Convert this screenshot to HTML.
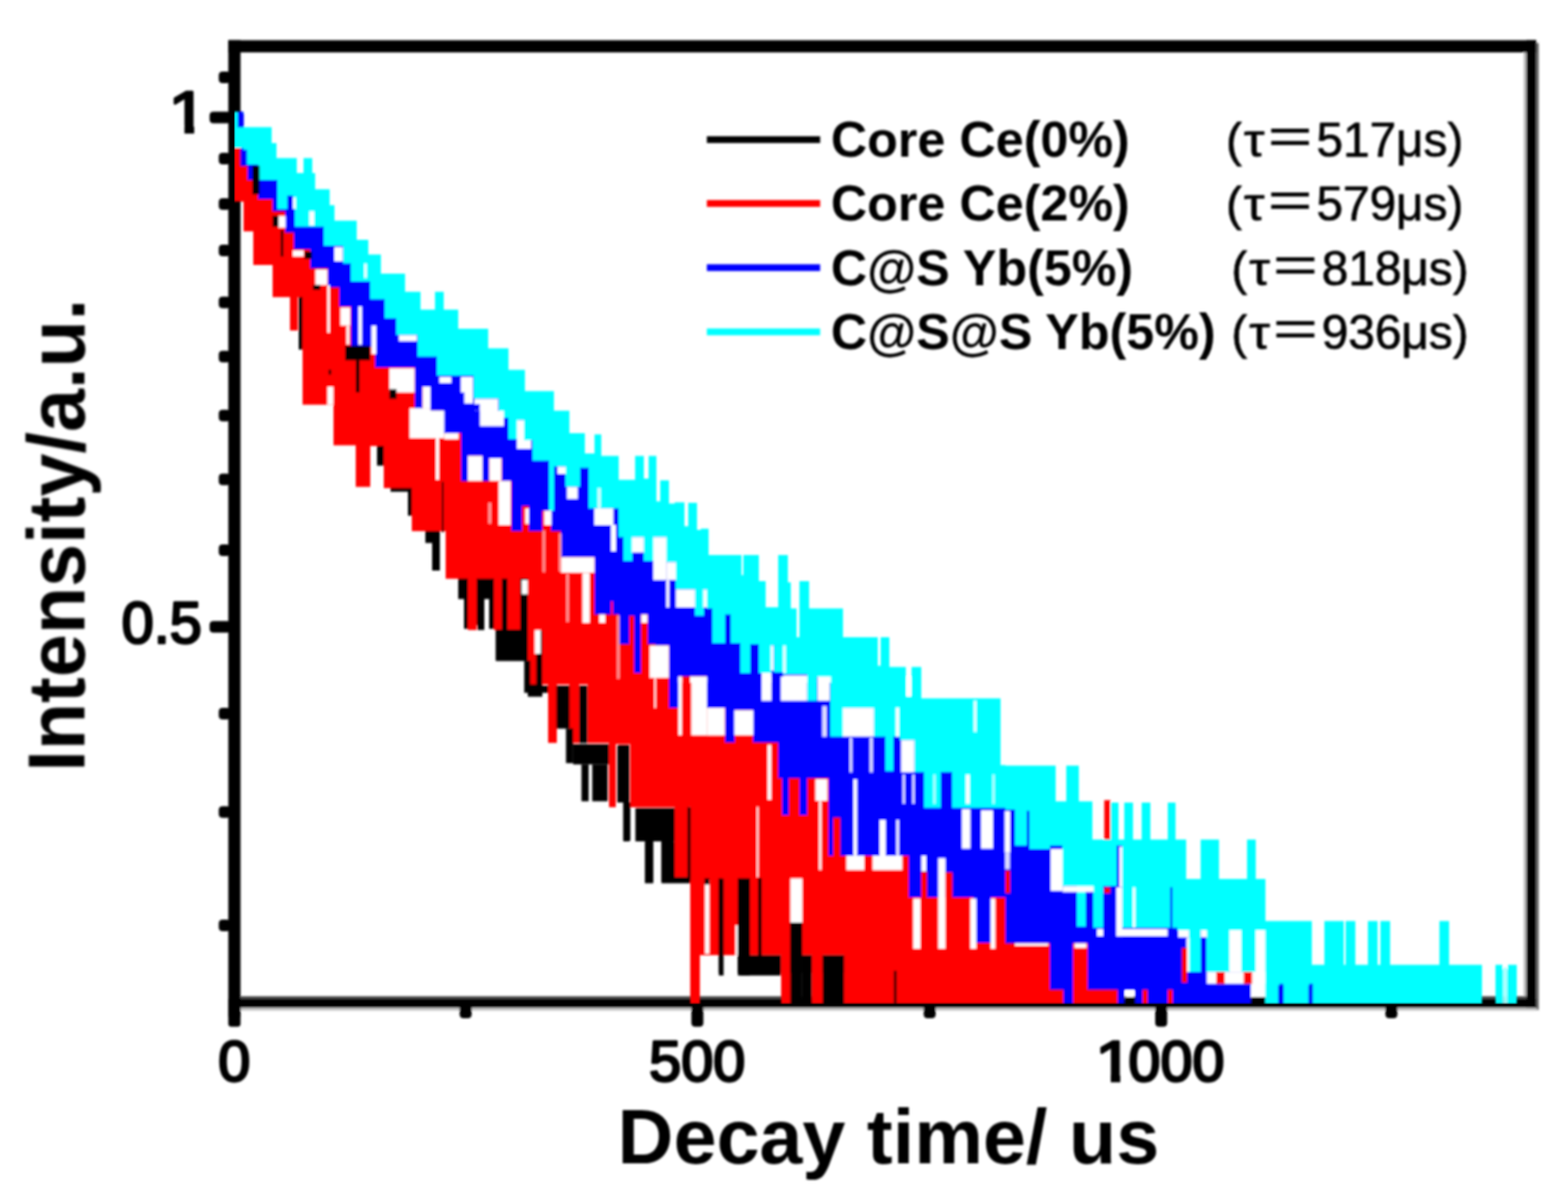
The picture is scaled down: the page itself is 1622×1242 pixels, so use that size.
<!DOCTYPE html>
<html lang="en">
<head>
<meta charset="utf-8">
<title>Decay curves</title>
<style>
html,body{margin:0;padding:0;background:#fff;}
body{width:1622px;height:1242px;overflow:hidden;}
svg{display:block;}
text{fill:#000;}
</style>
</head>
<body>
<svg width="1622" height="1242" viewBox="0 0 1622 1242">
<rect x="0" y="0" width="1622" height="1242" fill="#fff"/>
<g id="frame" filter="url(#soft2)">
<rect x="236.2" y="41.6" width="12.6" height="1010" fill="#000"/><rect x="236.2" y="1040" width="12.6" height="21.8" rx="3" fill="#000"/>
<rect x="1576.2" y="54" width="3" height="977" fill="#b8b8b8"/>
<rect x="1579" y="41.6" width="10" height="1001" fill="#000"/>
<rect x="1588.8" y="44.5" width="3" height="1000" fill="#666"/>
<rect x="248.8" y="1030.3" width="1330.5" height="3" fill="#444"/>
<rect x="236.2" y="1033" width="1353" height="9.4" fill="#000"/>
<rect x="248.8" y="1042.3" width="1341" height="2.8" fill="#c4c4c4"/>
<rect x="236.2" y="41.6" width="1353" height="12.6" fill="#000"/>
<rect x="226.3" y="74.0" width="12" height="12" rx="4" fill="#000"/>
<rect x="226.3" y="158.0" width="12" height="12" rx="4" fill="#000"/>
<rect x="226.3" y="205.0" width="12" height="12" rx="4" fill="#000"/>
<rect x="226.3" y="253.0" width="12" height="12" rx="4" fill="#000"/>
<rect x="226.3" y="306.7" width="12" height="12" rx="4" fill="#000"/>
<rect x="226.3" y="362.7" width="12" height="12" rx="4" fill="#000"/>
<rect x="226.3" y="423.7" width="12" height="12" rx="4" fill="#000"/>
<rect x="226.3" y="489.7" width="12" height="12" rx="4" fill="#000"/>
<rect x="226.3" y="563.0" width="12" height="12" rx="4" fill="#000"/>
<rect x="226.3" y="732.0" width="12" height="12" rx="4" fill="#000"/>
<rect x="226.3" y="833.7" width="12" height="12" rx="4" fill="#000"/>
<rect x="226.3" y="951.0" width="12" height="12" rx="4" fill="#000"/>
<rect x="216.8" y="115.4" width="22" height="12" rx="4" fill="#000"/>
<rect x="216.8" y="642.3" width="22" height="12" rx="4" fill="#000"/>
<rect x="715.2" y="1040" width="12.4" height="21.7" rx="4" fill="#000"/>
<rect x="1195.0" y="1040" width="12.4" height="21.7" rx="4" fill="#000"/>
<rect x="475.5" y="1040" width="12.4" height="13" rx="4" fill="#000"/>
<rect x="955.5" y="1040" width="12.4" height="13" rx="4" fill="#000"/>
<rect x="1433.1" y="1040" width="12.4" height="13" rx="4" fill="#000"/>
</g>
<defs><filter id="soft" filterUnits="userSpaceOnUse" x="0" y="0" width="1622" height="1242"><feGaussianBlur stdDeviation="1.0"/></filter>
<filter id="soft2" filterUnits="userSpaceOnUse" x="0" y="0" width="1622" height="1242"><feGaussianBlur stdDeviation="0.9"/></filter>
<clipPath id="plot"><rect x="242.3" y="40" width="1350" height="998.5"/></clipPath></defs>
<g id="series" filter="url(#soft)" clip-path="url(#plot)">
<path fill="#000000" d="M309 187.9L314 187.9L314 172.6L323 172.6L323 187.9L326 187.9L326 204.7L341 204.7L341 221.2L346 221.2L346 237.2L369 237.2L369 257.0L381 257.0L381 272.3L394 272.3L394 292.0L419 292.0L419 310.7L435 310.7L435 329.2L450 329.2L450 310.7L459 310.7L459 329.2L474 329.2L474 349.0L505 349.0L505 369.2L526 369.2L526 391.4L543 391.4L543 413.6L545 413.6L545 413.4L561 413.4L561 720.6L546 720.6L546 683.6L513 683.6L513 646.6L511 646.6L511 650.3L506 650.3L506 619.5L501 619.5L501 651.5L494 651.5L494 646.6L485 646.6L485 650.3L480 650.3L480 619.5L474 619.5L474 592.4L461 592.4L461 548.0L455 548.0L455 589.9L447 589.9L447 561.5L440 561.5L440 548.0L426 548.0L426 533.2L422 533.2L422 508.5L404 508.5L404 498.6L397 498.6L397 481.4L390 481.4L390 414.8L313 414.8L313 361.4L309 361.4Z"/>
<path fill="#ff0000" d="M242 122.0L252 122.0L252 137.6L281 137.6L281 154.1L286 154.1L286 169.6L307 169.6L307 184.9L314 184.9L314 169.6L323 169.6L323 184.9L326 184.9L326 201.7L341 201.7L341 218.2L346 218.2L346 234.2L369 234.2L369 254.0L381 254.0L381 269.3L394 269.3L394 289.0L419 289.0L419 307.7L435 307.7L435 326.2L450 326.2L450 307.7L459 307.7L459 326.2L474 326.2L474 346.0L505 346.0L505 366.2L526 366.2L526 388.4L543 388.4L543 410.6L545 410.6L545 410.4L573 410.4L573 430.7L589 430.7L589 454.1L605 454.1L605 475.1L615 475.1L615 455.3L622 455.3L622 477.5L640 477.5L640 502.2L657 502.2L657 477.5L666 477.5L666 500.9L671 500.9L671 477.5L679 477.5L679 524.4L683 524.4L683 502.7L692 502.7L692 526.8L698 526.8L698 525.6L708 525.6L708 550.3L712 550.3L712 526.1L721 526.1L721 554.0L725 554.0L725 552.7L733 552.7L733 579.9L767 579.9L767 600.8L769 600.8L769 579.9L785 579.9L785 607.0L792 607.0L792 634.1L805 634.1L805 579.9L815 579.9L815 608.2L818 608.2L818 635.3L824 635.3L824 664.9L827 664.9L827 607.0L837 607.0L837 635.3L872 635.3L872 664.9L908 664.9L908 694.5L911 694.5L911 664.9L920 664.9L920 695.8L937 695.8L937 726.6L943 726.6L943 695.8L953 695.8L953 728.2L1035 728.2L1035 797.2L1040 797.2L1040 797.8L1092 797.8L1092 834.8L1103 834.8L1103 797.8L1116 797.8L1116 834.8L1130 834.8L1130 874.2L1149 874.2L1149 836.0L1156 836.0L1156 1038.0L873 1038.0L873 987.8L851 987.8L851 1038.0L840 1038.0L840 987.8L818 987.8L818 1038.0L808 1038.0L808 987.8L724 987.8L724 1038.0L714 1038.0L714 834.4L713 834.4L713 907.2L711 907.2L711 907.6L698 907.6L698 834.8L652 834.8L652 769.5L637 769.5L637 834.8L630 834.8L630 768.2L608 768.2L608 707.8L599 707.8L599 768.2L589 768.2L589 707.8L576 707.8L576 768.2L567 768.2L567 707.8L561 707.8L561 652.3L555 652.3L555 707.8L546 707.8L546 598.5L538 598.5L538 651.5L525 651.5L525 598.5L519 598.5L519 651.5L511 651.5L511 598.5L493 598.5L493 651.5L484 651.5L484 598.5L461 598.5L461 549.2L426 549.2L426 504.8L397 504.8L397 461.2L383 461.2L383 503.6L368 503.6L368 460.4L345 460.4L345 418.5L313 418.5L313 307.2L308 307.2L308 341.7L300 341.7L300 307.2L282 307.2L282 273.9L262 273.9L262 239.3L252 239.3L252 208.5L242 208.5ZM1182 836.0L1187 836.0L1187 1038.0L1182 1038.0ZM1208 836.0L1213 836.0L1213 1038.0L1208 1038.0Z"/>
<path fill="#0000ff" d="M242 119.0L252 119.0L252 134.6L281 134.6L281 151.1L286 151.1L286 166.6L307 166.6L307 181.9L314 181.9L314 166.6L323 166.6L323 181.9L326 181.9L326 198.7L341 198.7L341 215.2L346 215.2L346 231.2L369 231.2L369 251.0L381 251.0L381 266.3L394 266.3L394 286.0L419 286.0L419 304.7L435 304.7L435 323.2L450 323.2L450 304.7L459 304.7L459 323.2L474 323.2L474 343.0L505 343.0L505 363.2L526 363.2L526 385.4L543 385.4L543 407.6L545 407.6L545 407.4L573 407.4L573 427.7L589 427.7L589 451.1L605 451.1L605 472.1L615 472.1L615 452.3L622 452.3L622 474.5L640 474.5L640 499.2L657 499.2L657 474.5L666 474.5L666 497.9L671 497.9L671 474.5L679 474.5L679 521.4L683 521.4L683 499.7L692 499.7L692 523.8L698 523.8L698 522.6L708 522.6L708 547.3L712 547.3L712 523.1L721 523.1L721 551.0L725 551.0L725 549.7L733 549.7L733 576.9L767 576.9L767 597.8L769 597.8L769 576.9L785 576.9L785 604.0L792 604.0L792 631.1L805 631.1L805 576.9L815 576.9L815 605.2L818 605.2L818 632.3L824 632.3L824 661.9L827 661.9L827 604.0L837 604.0L837 632.3L872 632.3L872 661.9L908 661.9L908 691.5L911 691.5L911 661.9L920 661.9L920 692.8L937 692.8L937 723.6L943 723.6L943 692.8L953 692.8L953 725.2L1035 725.2L1035 794.2L1040 794.2L1040 794.8L1092 794.8L1092 831.8L1103 831.8L1103 794.8L1116 794.8L1116 831.8L1130 831.8L1130 871.2L1149 871.2L1149 833.0L1157 833.0L1157 871.2L1163 871.2L1163 833.0L1172 833.0L1172 871.2L1181 871.2L1181 833.0L1190 833.0L1190 871.2L1208 871.2L1208 833.0L1216 833.0L1216 871.2L1227 871.2L1227 911.9L1242 911.9L1242 871.2L1261 871.2L1261 911.9L1290 911.9L1290 871.2L1294 871.2L1294 1038.0L1213 1038.0L1213 1023.6L1208 1023.6L1208 1038.0L1187 1038.0L1187 1023.6L1182 1023.6L1182 1038.0L1174 1038.0L1174 1023.6L1163 1023.6L1163 1038.0L1156 1038.0L1156 1023.6L1125 1023.6L1125 975.5L1110 975.5L1110 1038.0L1100 1038.0L1100 1023.6L1086 1023.6L1086 975.5L1040 975.5L1040 928.1L1025 928.1L1025 975.0L1007 975.0L1007 928.1L940 928.1L940 885.0L857 885.0L857 804.8L835 804.8L835 843.0L827 843.0L827 804.8L816 804.8L816 843.0L809 843.0L809 804.8L805 804.8L805 767.8L779 767.8L779 734.5L760 734.5L760 767.8L750 767.8L750 732.1L731 732.1L731 699.6L702 699.6L702 732.1L692 732.1L692 667.6L678 667.6L678 666.3L670 666.3L670 635.5L663 635.5L663 695.9L656 695.9L656 636.7L651 636.7L651 666.3L640 666.3L640 621.9L632 621.9L632 635.5L615 635.5L615 576.3L580 576.3L580 549.2L570 549.2L570 528.2L561 528.2L561 549.2L547 549.2L547 523.3L540 523.3L540 549.2L529 549.2L529 497.4L519 497.4L519 474.0L506 474.0L506 497.4L499 497.4L499 471.5L484 471.5L484 497.4L477 497.4L477 448.1L459 448.1L459 424.7L445 424.7L445 400.0L437 400.0L437 424.7L429 424.7L429 379.9L388 379.9L388 358.9L363 358.9L363 317.0L351 317.0L351 297.3L339 297.3L339 277.6L321 277.6L321 257.8L304 257.8L304 240.6L295 240.6L295 218.4L282 218.4L282 206.0L267 206.0L267 186.3L256 186.3L256 171.5L249 171.5L249 153.0L242 153.0Z"/>
<path fill="#00ffff" d="M242 116.0L252 116.0L252 131.6L281 131.6L281 148.1L286 148.1L286 163.6L307 163.6L307 178.9L314 178.9L314 163.6L323 163.6L323 178.9L326 178.9L326 195.7L341 195.7L341 212.2L346 212.2L346 228.2L369 228.2L369 248.0L381 248.0L381 263.3L394 263.3L394 283.0L419 283.0L419 301.7L435 301.7L435 320.2L450 320.2L450 301.7L459 301.7L459 320.2L474 320.2L474 340.0L505 340.0L505 360.2L526 360.2L526 382.4L543 382.4L543 404.6L545 404.6L545 404.4L573 404.4L573 424.7L589 424.7L589 448.1L605 448.1L605 469.1L615 469.1L615 449.3L622 449.3L622 471.5L640 471.5L640 496.2L657 496.2L657 471.5L666 471.5L666 494.9L671 494.9L671 471.5L679 471.5L679 518.4L683 518.4L683 496.7L692 496.7L692 520.8L698 520.8L698 519.6L708 519.6L708 544.3L712 544.3L712 520.1L721 520.1L721 548.0L725 548.0L725 546.7L733 546.7L733 573.9L767 573.9L767 594.8L769 594.8L769 573.9L785 573.9L785 601.0L792 601.0L792 628.1L805 628.1L805 573.9L815 573.9L815 602.2L818 602.2L818 629.3L824 629.3L824 658.9L827 658.9L827 601.0L837 601.0L837 629.3L872 629.3L872 658.9L908 658.9L908 688.5L911 688.5L911 658.9L920 658.9L920 689.8L937 689.8L937 720.6L943 720.6L943 689.8L953 689.8L953 722.2L1035 722.2L1035 791.2L1040 791.2L1040 791.8L1092 791.8L1092 828.8L1103 828.8L1103 791.8L1116 791.8L1116 828.8L1130 828.8L1130 868.2L1149 868.2L1149 830.0L1157 830.0L1157 868.2L1163 868.2L1163 830.0L1172 830.0L1172 868.2L1181 868.2L1181 830.0L1190 830.0L1190 868.2L1208 868.2L1208 830.0L1216 830.0L1216 868.2L1227 868.2L1227 908.9L1242 908.9L1242 868.2L1261 868.2L1261 908.9L1290 908.9L1290 868.2L1299 868.2L1299 908.9L1300 908.9L1300 909.0L1309 909.0L1309 952.5L1357 952.5L1357 997.8L1370 997.8L1370 952.5L1390 952.5L1390 997.8L1392 997.8L1392 952.5L1402 952.5L1402 997.8L1415 997.8L1415 952.5L1425 952.5L1425 997.8L1428 997.8L1428 952.5L1438 952.5L1438 997.8L1489 997.8L1489 952.5L1499 952.5L1499 997.8L1533 997.8L1533 1038.0L1300 1038.0L1300 961.9L1299 961.9L1299 1005.1L1284 1005.1L1284 961.9L1272 961.9L1272 1005.1L1248 1005.1L1248 961.9L1242 961.9L1242 1005.1L1230 1005.1L1230 961.9L1218 961.9L1218 959.5L1161 959.5L1161 874.4L1155 874.4L1155 916.3L1141 916.3L1141 959.5L1131 959.5L1131 917.6L1123 917.6L1123 958.2L1114 958.2L1114 916.3L1099 916.3L1099 874.4L1086 874.4L1086 878.1L1065 878.1L1065 874.4L1050 874.4L1050 837.4L1040 837.4L1040 835.6L985 835.6L985 798.6L973 798.6L973 835.6L956 835.6L956 798.6L946 798.6L946 765.4L931 765.4L931 761.7L924 761.7L924 797.4L916 797.4L916 761.7L904 761.7L904 732.1L872 732.1L872 761.7L859 761.7L859 700.0L845 700.0L845 724.7L835 724.7L835 697.2L810 697.2L810 667.6L798 667.6L798 695.9L785 695.9L785 666.3L776 666.3L776 695.9L766 695.9L766 665.1L756 665.1L756 635.5L750 635.5L750 665.1L737 665.1L737 629.3L731 629.3L731 609.6L728 609.6L728 636.7L719 636.7L719 609.6L699 609.6L699 581.3L689 581.3L689 555.4L676 555.4L676 580.0L666 580.0L666 555.4L654 555.4L654 580.0L645 580.0L645 555.4L640 555.4L640 525.8L609 525.8L609 483.8L600 483.8L600 503.6L585 503.6L585 482.6L573 482.6L573 528.2L568 528.2L568 476.4L551 476.4L551 434.5L536 434.5L536 454.3L526 454.3L526 432.1L516 432.1L516 412.3L490 412.3L490 388.5L452 388.5L452 368.8L432 368.8L432 346.6L410 346.6L410 329.3L398 329.3L398 309.6L383 309.6L383 291.1L363 291.1L363 272.6L355 272.6L355 254.1L335 254.1L335 234.4L305 234.4L305 215.9L287 215.9L287 186.3L267 186.3L267 170.3L252 170.3L252 153.0L242 153.0ZM1547 997.8L1554 997.8L1554 1002.4L1555 1002.4L1555 1038.0L1547 1038.0ZM1559 1002.4L1560 1002.4L1560 997.8L1569 997.8L1569 1038.0L1559 1038.0Z"/>
<rect x="320.1" y="218.4" width="4.9" height="14.8" fill="#fff"/>
<rect x="346.0" y="255.4" width="8.6" height="14.8" fill="#fff"/>
<rect x="376.9" y="272.6" width="2.5" height="14.8" fill="#fff"/>
<rect x="412.6" y="346.6" width="18.5" height="6.2" fill="#fff"/>
<rect x="454.5" y="389.8" width="12.3" height="6.2" fill="#fff"/>
<rect x="476.7" y="389.8" width="12.3" height="16.0" fill="#fff"/>
<rect x="288.1" y="223.3" width="7.4" height="12.3" fill="#fff"/>
<rect x="302.9" y="259.1" width="11.1" height="6.2" fill="#fff"/>
<rect x="326.3" y="278.8" width="12.3" height="16.0" fill="#fff"/>
<rect x="338.6" y="294.8" width="2.5" height="49.3" fill="#fff"/>
<rect x="352.2" y="318.2" width="9.9" height="18.5" fill="#fff"/>
<rect x="358.4" y="336.7" width="3.0" height="19.7" fill="#fff"/>
<rect x="370.7" y="317.0" width="3.7" height="39.5" fill="#fff"/>
<rect x="384.3" y="336.7" width="4.9" height="29.6" fill="#fff"/>
<rect x="402.8" y="381.1" width="25.9" height="24.7" fill="#fff"/>
<rect x="261.0" y="171.5" width="7.4" height="29.6" fill="#000"/>
<rect x="281.9" y="223.3" width="6.2" height="11.1" fill="#000"/>
<rect x="290.6" y="238.1" width="2.5" height="27.1" fill="#000"/>
<rect x="315.2" y="260.3" width="7.4" height="7.4" fill="#000"/>
<rect x="323.8" y="294.8" width="7.4" height="4.9" fill="#000"/>
<rect x="357.1" y="357.7" width="25.9" height="14.8" fill="#000"/>
<rect x="368.2" y="372.5" width="3.7" height="33.3" fill="#000"/>
<rect x="339.9" y="382.4" width="2.5" height="4.9" fill="#000"/>
<rect x="338.6" y="400.0" width="6.2" height="18.5" fill="#fff"/>
<rect x="423.7" y="422.2" width="21.0" height="30.8" fill="#fff"/>
<rect x="444.7" y="424.7" width="14.8" height="28.4" fill="#fff"/>
<rect x="459.5" y="448.1" width="14.8" height="6.2" fill="#fff"/>
<rect x="450.9" y="453.0" width="3.2" height="43.2" fill="#fff"/>
<rect x="484.1" y="471.5" width="14.8" height="25.9" fill="#fff"/>
<rect x="506.3" y="474.0" width="12.3" height="23.4" fill="#fff"/>
<rect x="515.7" y="497.4" width="12.3" height="45.6" fill="#fff"/>
<rect x="543.3" y="525.8" width="3.7" height="16.0" fill="#fff"/>
<rect x="563.1" y="528.2" width="7.4" height="14.8" fill="#fff"/>
<rect x="580.3" y="576.3" width="34.5" height="16.0" fill="#fff"/>
<rect x="602.5" y="592.4" width="7.4" height="51.8" fill="#fff"/>
<rect x="539.6" y="599.8" width="6.2" height="14.8" fill="#fff"/>
<rect x="553.2" y="651.5" width="6.2" height="24.7" fill="#fff"/>
<rect x="619.8" y="635.5" width="6.2" height="8.6" fill="#fff"/>
<rect x="480.4" y="400.0" width="8.6" height="17.3" fill="#fff"/>
<rect x="496.5" y="424.7" width="24.7" height="16.0" fill="#fff"/>
<rect x="534.7" y="434.5" width="14.8" height="29.6" fill="#fff"/>
<rect x="576.6" y="482.6" width="8.6" height="7.4" fill="#fff"/>
<rect x="586.5" y="503.6" width="11.1" height="12.3" fill="#fff"/>
<rect x="614.8" y="525.8" width="19.7" height="17.3" fill="#fff"/>
<rect x="632.1" y="543.0" width="4.9" height="27.1" fill="#fff"/>
<rect x="402.8" y="402.5" width="7.4" height="9.9" fill="#000"/>
<rect x="457.0" y="498.6" width="2.0" height="51.8" fill="#000"/>
<rect x="653.6" y="555.4" width="12.3" height="16.0" fill="#fff"/>
<rect x="675.8" y="555.4" width="13.6" height="44.4" fill="#fff"/>
<rect x="689.3" y="581.3" width="9.9" height="18.5" fill="#fff"/>
<rect x="699.2" y="609.6" width="19.7" height="18.5" fill="#fff"/>
<rect x="727.5" y="609.6" width="3.7" height="18.5" fill="#fff"/>
<rect x="788.0" y="695.9" width="9.9" height="10.1" fill="#fff"/>
<rect x="797.3" y="667.6" width="3.0" height="25.9" fill="#fff"/>
<rect x="810.2" y="667.6" width="2.5" height="28.4" fill="#fff"/>
<rect x="810.2" y="698.4" width="24.7" height="7.6" fill="#fff"/>
<rect x="845.9" y="699.6" width="13.6" height="6.4" fill="#fff"/>
<rect x="663.4" y="635.5" width="6.2" height="8.6" fill="#fff"/>
<rect x="672.1" y="667.6" width="19.7" height="33.3" fill="#fff"/>
<rect x="701.7" y="699.6" width="3.7" height="6.4" fill="#fff"/>
<rect x="714.0" y="699.6" width="17.3" height="6.4" fill="#fff"/>
<rect x="689.3" y="599.8" width="3.0" height="28.4" fill="#fff"/>
<rect x="701.7" y="700.0" width="3.7" height="60.4" fill="#fff"/>
<rect x="715.2" y="700.0" width="16.0" height="60.4" fill="#fff"/>
<rect x="731.2" y="732.1" width="18.5" height="28.4" fill="#fff"/>
<rect x="759.6" y="734.5" width="19.7" height="25.9" fill="#fff"/>
<rect x="788.0" y="700.0" width="9.9" height="24.7" fill="#fff"/>
<rect x="807.7" y="700.0" width="27.1" height="24.7" fill="#fff"/>
<rect x="845.9" y="700.0" width="12.3" height="24.7" fill="#fff"/>
<rect x="843.5" y="806.0" width="12.3" height="22.2" fill="#fff"/>
<rect x="882.9" y="806.0" width="3.7" height="78.9" fill="#fff"/>
<rect x="875.5" y="885.0" width="18.5" height="14.8" fill="#fff"/>
<rect x="902.6" y="885.0" width="30.8" height="14.8" fill="#fff"/>
<rect x="910.0" y="848.0" width="6.2" height="37.0" fill="#fff"/>
<rect x="927.3" y="848.0" width="2.5" height="37.0" fill="#fff"/>
<rect x="944.6" y="929.3" width="7.4" height="51.8" fill="#fff"/>
<rect x="953.2" y="885.0" width="4.9" height="16.0" fill="#fff"/>
<rect x="970.5" y="887.4" width="7.4" height="93.7" fill="#fff"/>
<rect x="1003.7" y="929.3" width="6.2" height="51.8" fill="#fff"/>
<rect x="1024.7" y="929.3" width="4.9" height="51.8" fill="#fff"/>
<rect x="871.8" y="732.1" width="32.1" height="29.6" fill="#fff"/>
<rect x="932.2" y="765.4" width="13.6" height="33.3" fill="#fff"/>
<rect x="995.1" y="836.9" width="8.6" height="40.7" fill="#fff"/>
<rect x="1014.8" y="838.1" width="12.3" height="39.5" fill="#fff"/>
<rect x="1007.4" y="724.7" width="2.5" height="32.1" fill="#fff"/>
<rect x="938.4" y="700.0" width="3.7" height="19.7" fill="#fff"/>
<rect x="794.1" y="770.3" width="3.7" height="56.7" fill="#fff"/>
<rect x="847.2" y="828.2" width="2.5" height="71.5" fill="#fff"/>
<rect x="817.6" y="908.4" width="12.3" height="45.6" fill="#fff"/>
<rect x="729.3" y="909.6" width="4.4" height="76.4" fill="#fff"/>
<rect x="677.0" y="700.0" width="1.5" height="32.1" fill="#fff"/>
<rect x="783.0" y="834.4" width="1.5" height="72.7" fill="#fff"/>
<rect x="640.0" y="770.3" width="11.1" height="58.0" fill="#000"/>
<rect x="644.9" y="828.2" width="6.2" height="41.9" fill="#000"/>
<rect x="657.3" y="835.6" width="40.7" height="34.5" fill="#000"/>
<rect x="667.1" y="870.2" width="8.6" height="43.2" fill="#000"/>
<rect x="684.4" y="870.2" width="13.6" height="43.2" fill="#000"/>
<rect x="698.0" y="907.2" width="16.0" height="6.2" fill="#000"/>
<rect x="712.0" y="835.6" width="2.0" height="76.4" fill="#000"/>
<rect x="728.8" y="908.4" width="4.9" height="6.2" fill="#000"/>
<rect x="743.6" y="908.4" width="3.7" height="97.7" fill="#000"/>
<rect x="763.3" y="908.4" width="12.3" height="97.7" fill="#000"/>
<rect x="784.3" y="908.4" width="3.7" height="80.1" fill="#000"/>
<rect x="763.3" y="988.5" width="44.4" height="17.5" fill="#000"/>
<rect x="817.6" y="954.0" width="12.3" height="52.0" fill="#000"/>
<rect x="829.9" y="988.5" width="9.9" height="17.5" fill="#000"/>
<rect x="850.9" y="988.5" width="22.2" height="17.5" fill="#000"/>
<rect x="861.9" y="845.5" width="7.4" height="39.5" fill="#f00"/>
<rect x="977.9" y="902.2" width="7.4" height="25.9" fill="#f00"/>
<rect x="1005.0" y="838.1" width="9.9" height="39.5" fill="#00f"/>
<rect x="512.7" y="651.1" width="33.3" height="32.1" fill="#000"/>
<rect x="542.3" y="683.2" width="6.2" height="33.3" fill="#000"/>
<rect x="546.0" y="709.1" width="21.0" height="7.4" fill="#000"/>
<rect x="554.7" y="677.0" width="6.2" height="30.8" fill="#000"/>
<rect x="575.6" y="709.1" width="13.6" height="44.4" fill="#000"/>
<rect x="585.5" y="753.4" width="7.4" height="35.8" fill="#000"/>
<rect x="599.1" y="709.1" width="8.6" height="59.2" fill="#000"/>
<rect x="592.9" y="769.5" width="37.0" height="21.0" fill="#000"/>
<rect x="601.5" y="790.4" width="7.4" height="38.2" fill="#000"/>
<rect x="612.6" y="790.4" width="16.0" height="38.2" fill="#000"/>
<rect x="638.5" y="770.7" width="11.1" height="59.2" fill="#000"/>
<rect x="644.7" y="829.9" width="7.4" height="39.5" fill="#000"/>
<rect x="658.2" y="836.1" width="38.2" height="32.1" fill="#000"/>
<rect x="668.1" y="868.1" width="7.4" height="44.4" fill="#000"/>
<rect x="684.1" y="868.1" width="12.3" height="44.4" fill="#000"/>
<rect x="686.6" y="907.6" width="27.1" height="4.9" fill="#000"/>
<rect x="711.3" y="834.8" width="3.0" height="76.4" fill="#000"/>
<rect x="1086.9" y="878.1" width="12.3" height="43.2" fill="#fff"/>
<rect x="1099.2" y="916.3" width="32.1" height="6.2" fill="#fff"/>
<rect x="1154.7" y="917.6" width="6.2" height="50.6" fill="#fff"/>
<rect x="1157.9" y="875.6" width="3.0" height="41.9" fill="#fff"/>
<rect x="1171.9" y="917.6" width="2.5" height="41.9" fill="#fff"/>
<rect x="1155.9" y="960.7" width="51.8" height="7.4" fill="#fff"/>
<rect x="1218.8" y="961.9" width="11.1" height="7.4" fill="#fff"/>
<rect x="1242.2" y="961.9" width="6.2" height="7.4" fill="#fff"/>
<rect x="1227.4" y="969.3" width="3.0" height="35.8" fill="#fff"/>
<rect x="1248.4" y="1005.1" width="60.4" height="12.3" fill="#fff"/>
<rect x="1271.8" y="961.9" width="12.3" height="43.2" fill="#fff"/>
<rect x="1298.9" y="961.9" width="9.9" height="69.1" fill="#fff"/>
<rect x="1134.9" y="960.7" width="6.2" height="7.4" fill="#fff"/>
<rect x="1294.0" y="1017.4" width="4.9" height="13.6" fill="#fff"/>
<rect x="1164.5" y="1024.8" width="8.6" height="6.2" fill="#fff"/>
<rect x="1049.9" y="975.5" width="34.5" height="2.5" fill="#fff"/>
<rect x="1111.5" y="975.5" width="12.3" height="4.9" fill="#fff"/>
<rect x="1142.3" y="827.5" width="6.2" height="40.7" fill="#f00"/>
<rect x="1142.3" y="917.6" width="6.2" height="6.2" fill="#f00"/>
<rect x="1258.2" y="1005.1" width="8.6" height="12.3" fill="#f00"/>
<rect x="1286.6" y="1005.1" width="8.6" height="12.3" fill="#f00"/>
<rect x="1222.5" y="980.4" width="5.4" height="35.8" fill="#f00"/>
<rect x="1040.0" y="900.3" width="4.9" height="23.4" fill="#f00"/>
<rect x="1164.5" y="1031.0" width="9.9" height="7.0" fill="#000"/>
<rect x="1295.2" y="1031.0" width="13.6" height="7.0" fill="#000"/>
<rect x="1323.6" y="1017.4" width="3.7" height="20.6" fill="#00f"/>
<rect x="1354.4" y="1017.4" width="3.7" height="20.6" fill="#00f"/>
<rect x="1210.7" y="917.6" width="2.0" height="44.4" fill="#00f"/>
<rect x="1044.9" y="837.4" width="4.9" height="40.7" fill="#00f"/>
<rect x="1062.2" y="838.6" width="2.5" height="39.5" fill="#00f"/>
<rect x="1322.2" y="1019.1" width="5.5" height="18.9" fill="#00f"/>
<rect x="1353.6" y="1019.1" width="3.7" height="18.9" fill="#00f"/>
<rect x="760.8" y="957.0" width="2.5" height="30.8" fill="#fff"/>
<rect x="743.6" y="908.9" width="4.9" height="99.9" fill="#000"/>
<rect x="763.3" y="908.9" width="12.3" height="99.9" fill="#000"/>
<rect x="765.8" y="987.8" width="41.9" height="21.0" fill="#000"/>
<rect x="784.3" y="908.9" width="3.7" height="80.1" fill="#000"/>
<rect x="817.6" y="954.5" width="12.3" height="83.4" fill="#000"/>
<rect x="829.9" y="987.8" width="9.9" height="50.1" fill="#000"/>
<rect x="850.9" y="987.8" width="22.2" height="50.1" fill="#000"/>
<rect x="924.8" y="1003.9" width="2.5" height="34.0" fill="#000"/>
<rect x="437.3" y="400.0" width="7.9" height="22.7" fill="#fff"/>
<rect x="443.7" y="423.4" width="2.0" height="29.6" fill="#fff"/>
<rect x="247.8" y="117.6" width="4.4" height="13.8" fill="#00f"/>
<rect x="1555.2" y="1000.6" width="3.7" height="37.4" fill="#aff"/>
<rect x="248.6" y="154.9" width="6.8" height="16.6" fill="#00f"/>
<rect x="297.3" y="202.3" width="5.8" height="15.4" fill="#00f"/>
<rect x="245.5" y="115.4" width="6.2" height="16.0" fill="#00f"/>
<rect x="242.5" y="115.4" width="3.3" height="16.0" fill="#0ff"/>
<rect x="303.1" y="204.2" width="2.8" height="11.7" fill="#fff"/>
<rect x="850.5" y="730.2" width="4.6" height="31.6" fill="#ddf"/>
<rect x="878.8" y="762.5" width="2.8" height="36.2" fill="#ddf"/>
<rect x="899.6" y="762.5" width="3.2" height="36.2" fill="#ddf"/>
<rect x="933.6" y="801.1" width="2.6" height="30.1" fill="#ddf"/>
<rect x="943.6" y="801.1" width="2.5" height="30.1" fill="#ddf"/>
<rect x="926.6" y="731.7" width="3.4" height="30.1" fill="#fff"/>
<rect x="999.1" y="801.1" width="4.0" height="30.1" fill="#fff"/>
<rect x="965.6" y="801.1" width="2.0" height="30.1" fill="#cff"/>
<rect x="1026.7" y="801.1" width="2.0" height="30.1" fill="#cff"/>
<rect x="490.6" y="412.5" width="24.7" height="11.9" fill="#fff"/>
<rect x="542.0" y="432.5" width="9.7" height="22.7" fill="#0ff"/>
<rect x="480.4" y="417.9" width="15.9" height="6.5" fill="#00f"/>
<rect x="634.0" y="620.6" width="7.4" height="14.8" fill="#00f"/>
<rect x="618.3" y="504.7" width="3.1" height="21.6" fill="#dff"/>
<rect x="800.4" y="667.1" width="9.6" height="28.2" fill="#0ff"/>
<rect x="1039.4" y="839.0" width="5.5" height="42.8" fill="#fff"/>
<rect x="1039.7" y="881.8" width="4.9" height="17.0" fill="#ddf"/>
<rect x="496.7" y="421.9" width="18.2" height="4.0" fill="#fff"/>
<rect x="505.2" y="520.0" width="2.8" height="21.6" fill="#f99"/>
<rect x="561.3" y="548.5" width="2.5" height="43.2" fill="#f99"/>
<rect x="578.2" y="551.6" width="2.5" height="39.3" fill="#f99"/>
<rect x="585.9" y="593.2" width="2.5" height="50.1" fill="#f99"/>
<rect x="638.3" y="636.4" width="2.5" height="65.5" fill="#f99"/>
<rect x="952.9" y="901.6" width="5.9" height="28.5" fill="#f00"/>
</g>
<g id="labels" filter="url(#soft2)">
<text transform="translate(242.3,1118.0) scale(1.01,1)" font-family="Liberation Sans, Arial, sans-serif" font-size="59" text-anchor="middle" stroke="#000" stroke-width="2.6" stroke-linejoin="round">0</text>
<text transform="translate(721.3,1118.0) scale(1.01,1)" font-family="Liberation Sans, Arial, sans-serif" font-size="59" text-anchor="middle" stroke="#000" stroke-width="2.6" stroke-linejoin="round">500</text>
<clipPath id="c1"><rect x="1130.9" y="1070.0" width="185.3" height="41.3"/><rect x="1149.0" y="1110.3" width="9.9" height="9.7"/><rect x="1170.3" y="1110.3" width="140.0" height="11.7"/></clipPath>
<g clip-path="url(#c1)"><text y="1118.0" font-family="Liberation Sans, Arial, sans-serif" font-size="59.5" stroke="#000" stroke-width="2.6" stroke-linejoin="round"><tspan x="1132.9" textLength="39.05" lengthAdjust="spacingAndGlyphs">1</tspan><tspan x="1167.3" textLength="99.27" lengthAdjust="spacingAndGlyphs">000</tspan></text></g>
<clipPath id="c2"><rect x="172.3" y="87.4" width="46.4" height="42.3"/><rect x="190.8" y="128.7" width="10.1" height="9.9"/></clipPath>
<g clip-path="url(#c2)"><text y="136.6" font-family="Liberation Sans, Arial, sans-serif" font-size="61" stroke="#000" stroke-width="2.6" stroke-linejoin="round"><tspan x="174.3" textLength="40.03" lengthAdjust="spacingAndGlyphs">1</tspan></text></g>
<text transform="translate(208.8,665.4) scale(0.965,1)" font-family="Liberation Sans, Arial, sans-serif" font-size="62" text-anchor="end" stroke="#000" stroke-width="2.6" stroke-linejoin="round">0.5</text>
<text x="919" y="1203" font-family="Liberation Sans, Arial, sans-serif" font-size="80" font-weight="bold" text-anchor="middle">Decay time/ us</text>
<text transform="translate(87.3,553.5) rotate(-90) scale(1,1.04)" font-family="Liberation Sans, Arial, sans-serif" font-size="80" font-weight="bold" text-anchor="middle">Intensity/a.u.</text>
<rect x="731.2" y="140.9" width="117.2" height="7" fill="#000"/>
<text x="859.5" y="162.0" font-family="Liberation Sans, Arial, sans-serif" font-size="52" font-weight="bold">Core Ce(0%)</text>
<text y="162.0" font-family="Liberation Sans, Arial, sans-serif" font-size="49.5" stroke="#000" stroke-width="0.7" stroke-linejoin="round"><tspan x="1268.3">(</tspan><tspan x="1286.8" font-size="47.5" textLength="21.40" lengthAdjust="spacingAndGlyphs">τ</tspan><tspan x="1308.0" font-family="Liberation Sans, Noto Sans CJK SC, sans-serif" font-size="53">＝</tspan><tspan x="1361.7">517</tspan><tspan x="1444.0">μs)</tspan></text>
<rect x="731.2" y="206.9" width="117.2" height="7" fill="#f00"/>
<text x="859.5" y="228.3" font-family="Liberation Sans, Arial, sans-serif" font-size="52" font-weight="bold">Core Ce(2%)</text>
<text y="228.3" font-family="Liberation Sans, Arial, sans-serif" font-size="49.5" stroke="#000" stroke-width="0.7" stroke-linejoin="round"><tspan x="1268.3">(</tspan><tspan x="1286.8" font-size="47.5" textLength="21.40" lengthAdjust="spacingAndGlyphs">τ</tspan><tspan x="1308.0" font-family="Liberation Sans, Noto Sans CJK SC, sans-serif" font-size="53">＝</tspan><tspan x="1361.7">579</tspan><tspan x="1444.0">μs)</tspan></text>
<rect x="731.2" y="273.3" width="117.2" height="7" fill="#00f"/>
<text x="859.5" y="294.6" font-family="Liberation Sans, Arial, sans-serif" font-size="52" font-weight="bold">C@S Yb(5%)</text>
<text y="294.6" font-family="Liberation Sans, Arial, sans-serif" font-size="49.5" stroke="#000" stroke-width="0.7" stroke-linejoin="round"><tspan x="1273.8">(</tspan><tspan x="1292.3" font-size="47.5" textLength="21.40" lengthAdjust="spacingAndGlyphs">τ</tspan><tspan x="1313.5" font-family="Liberation Sans, Noto Sans CJK SC, sans-serif" font-size="53">＝</tspan><tspan x="1367.2">818</tspan><tspan x="1449.5">μs)</tspan></text>
<rect x="731.2" y="339.7" width="117.2" height="7" fill="#0ff"/>
<text x="859.5" y="361.0" font-family="Liberation Sans, Arial, sans-serif" font-size="52" font-weight="bold">C@S@S Yb(5%)</text>
<text y="361.0" font-family="Liberation Sans, Arial, sans-serif" font-size="49.5" stroke="#000" stroke-width="0.7" stroke-linejoin="round"><tspan x="1273.8">(</tspan><tspan x="1292.3" font-size="47.5" textLength="21.40" lengthAdjust="spacingAndGlyphs">τ</tspan><tspan x="1313.5" font-family="Liberation Sans, Noto Sans CJK SC, sans-serif" font-size="53">＝</tspan><tspan x="1367.2">936</tspan><tspan x="1449.5">μs)</tspan></text>
</g>
</svg>
</body>
</html>
